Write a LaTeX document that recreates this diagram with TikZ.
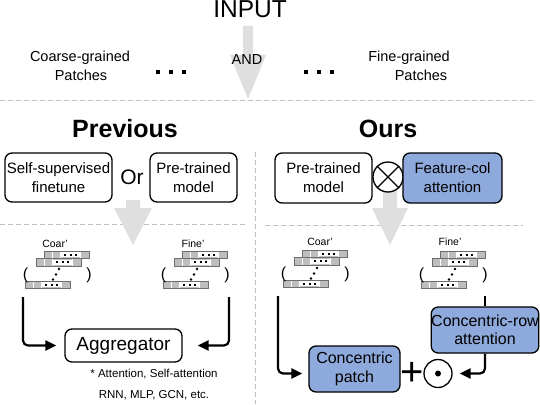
\documentclass[tikz,border=0pt]{standalone}
\usepackage{fontspec}
\setmainfont{Liberation Sans}
\usetikzlibrary{arrows.meta}

\definecolor{attblue}{RGB}{142,169,219}
\definecolor{tokgray}{RGB}{190,190,190}
\definecolor{tokedge}{RGB}{110,110,110}

\tikzset{
  modbox/.style={draw, line width=1.3pt, rounded corners=7pt, fill=white, align=center,
    inner sep=0pt, font=\fontsize{15}{19}\selectfont},
  attbox/.style={modbox, fill=attblue},
  sepline/.style={gray!50, line width=0.9pt, dash pattern=on 5pt off 3pt},
  flow/.style={line width=2.2pt, rounded corners=5pt, -{Triangle[length=11pt,width=10pt]}},
  bigarrow/.style={fill=gray!25},
  headtxt/.style={anchor=base, font=\fontsize{25}{30}\selectfont\bfseries},
  patchtxt/.style={anchor=base, font=\fontsize{14.5}{17}\selectfont},
  toktxt/.style={anchor=base, font=\fontsize{10.5}{12}\selectfont},
  notetxt/.style={anchor=base, font=\fontsize{11.5}{14}\selectfont},
  parentxt/.style={inner sep=0pt, font=\fontsize{16}{16}\selectfont},
}

% one token row, top-left corner at (#1,#2)
\newcommand{\tokrow}[2]{%
  \begin{scope}[shift={(#1,#2)}]
    \fill[tokgray] (0,0) rectangle (45,7.5);
    \fill[white] (17,1.2) rectangle (36,6.3);
    \draw[white, line width=0.6pt] (8.5,0) -- (8.5,7.5) (16.5,0) -- (16.5,7.5) (36.5,0) -- (36.5,7.5);
    \foreach \d in {21,26.5,32} \fill (\d-1,2.7) rectangle (\d+1,4.9);
    \draw[tokedge, line width=1pt] (0,0) rectangle (45,7.5);
  \end{scope}}

% stack of token rows with brackets, name prefix #1, top-left at (#2,#3)
\newcommand{\tokstack}[3]{%
  \begin{scope}[shift={(#2,#3)}]
    \tokrow{19}{0}
    \tokrow{11}{7.5}
    \tokrow{0}{30}
    \foreach \a/\b in {34/18,31/23.5,28/28.5} \fill (\a,\b) circle (1.3);
    \node[parentxt] (#1-lp) at (0.5,24) {(};
    \node[parentxt] (#1-rp) at (64,24) {)};
  \end{scope}}

\begin{document}
\begin{tikzpicture}[x=1pt, y=-1pt]
\useasboundingbox (0,0) rectangle (540,404);

% separators
\draw[sepline] (0,100) -- (535,100);
\draw[sepline] (0,224) -- (246,224);
\draw[sepline] (265,225) -- (523,225);
\draw[sepline] (255,152) -- (255,404);

% big gray arrows
\fill[bigarrow] (243,26) -- (253,26) -- (253,55) -- (266,55) -- (248,99) -- (230,55) -- (243,55) -- cycle;
\fill[bigarrow] (126,200) -- (140,200) -- (140,208) -- (152,208) -- (133,245) -- (114,208) -- (126,208) -- cycle;
\fill[bigarrow] (383,165) -- (397,165) -- (397,208) -- (408,208) -- (390,245) -- (372,208) -- (383,208) -- cycle;

% input
\node[anchor=base, font=\fontsize{24.5}{28}\selectfont] (input) at (250,18) {INPUT};
\node[patchtxt] (coarse1) at (80,61) {Coarse-grained};
\node[patchtxt] (coarse2) at (81,80) {Patches};
\node[patchtxt] (and) at (247,64) {AND};
\node[patchtxt] (fine1) at (409,61) {Fine-grained};
\node[patchtxt] (fine2) at (421,80) {Patches};
\foreach \x in {157.5,170.5,183.5,305.5,318.5,331.5} \fill (\x-2,69.5) rectangle (\x+2,73.5);

% previous
\node[headtxt] (prev) at (125,137) {Previous};
\node[modbox, minimum width=107pt, minimum height=49pt] (ssl) at (58.5,177.5) {Self-supervised\\finetune};
\node[font=\fontsize{21}{24}\selectfont] (or) at (132,177) {Or};
\node[modbox, minimum width=87pt, minimum height=49pt] (ptl) at (193.5,177.5) {Pre-trained\\model};

% ours
\node[headtxt] (ours) at (388,137) {Ours};
\node[modbox, minimum width=97pt, minimum height=50pt] (ptr) at (323.5,178) {Pre-trained\\model};
\node[draw, circle, line width=1.3pt, fill=white, minimum size=30pt, inner sep=0pt] (otimes) at (388,177) {};
\draw[line width=1.3pt] (otimes.north west) -- (otimes.south east) (otimes.north east) -- (otimes.south west);
\node[attbox, minimum width=99pt, minimum height=50pt] (featcol) at (452.5,178) {Feature-col\\attention};

% token stacks
\tokstack{cl}{25}{251}
\tokstack{fl}{163}{251}
\tokstack{cr}{283}{250}
\tokstack{fr}{421}{251}
\node[toktxt] (coarL) at (55,247) {Coar'};
\node[toktxt] (fineL) at (193,247) {Fine'};
\node[toktxt] (coarR) at (320,245) {Coar'};
\node[toktxt] (fineR) at (450,245) {Fine'};

% aggregator
\coordinate (cl) at (23,297);
\coordinate (fl) at (229,297);
\node[modbox, font=\fontsize{19}{22}\selectfont, minimum width=117pt, minimum height=33pt] (agg) at (123.5,345.5) {Aggregator};
\draw[flow, shorten >=8pt] (cl) |- (agg.west);
\draw[flow, shorten >=15pt] (fl) |- (agg.east);
\node[notetxt] (note1) at (154,377) {* Attention, Self-attention};
\node[notetxt] (note2) at (154,398) {RNN, MLP, GCN, etc.};

% concentric
\coordinate (cr) at (278,296);
\coordinate (fr) at (485,296);
\node[attbox, font=\fontsize{16}{19}\selectfont, minimum width=91pt, minimum height=46pt] (cpatch) at (354.5,369) {Concentric\\patch};
\node[attbox, font=\fontsize{16}{18}\selectfont, minimum width=106pt, minimum height=46pt] (crow) at (485,330) {Concentric-row\\attention};
\node[font=\fontsize{40}{40}\selectfont] (plus) at (412,374) {+};
\node[draw, circle, line width=1.3pt, minimum size=28pt, inner sep=0pt] (odot) at (438,373.5) {};
\fill (odot.center) circle (3);
\draw[line width=2.2pt] (fr) -- (crow.north);
\draw[flow, shorten >=6pt] (cr) |- (cpatch.west |- odot);
\draw[flow, shorten >=7pt] (crow.south) |- (odot.east);
\end{tikzpicture}
\end{document}
